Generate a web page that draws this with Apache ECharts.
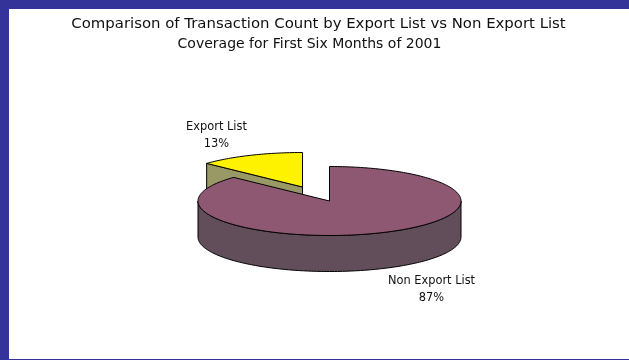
<!DOCTYPE html>
<html>
<head>
<meta charset="utf-8">
<style>html,body{margin:0;padding:0;background:#fff}#chart{width:629px;height:360px}</style>
<script src="https://cdn.jsdelivr.net/npm/echarts@6/dist/echarts.min.js"></script>
</head>
<body>
<div id="chart"></div>
<script>
// Transaction share by list coverage, January to June 2001
const categories = ['Non Export List', 'Export List'];
const shares = [87, 13];
const topColors = ['#8F5872', '#FFF200'];
const sideColors = ['#624E5A', '#999966'];
const titleLineOne = 'Comparison of Transaction Count by Export List vs Non Export List';
const titleLineTwo = 'Coverage for First Six Months of 2001';

// Tilted-pie projection
const cx = 329.5, cy = 201, rx = 131.5, ry = 34.5, depth = 36;
const explodeX = -27, explodeY = -14;
const total = shares.reduce((a, b) => a + b, 0);
const font = '"DejaVu Sans", sans-serif';

function rimPoint(t, ox, oy, drop) {
  return [cx + ox + rx * Math.sin(t), cy + oy + drop - ry * Math.cos(t)];
}

function arcPoints(from, to, ox, oy, drop) {
  const steps = Math.max(2, Math.ceil((to - from) / 0.02));
  const pts = [];
  for (let i = 0; i <= steps; i++) {
    pts.push(rimPoint(from + (to - from) * i / steps, ox, oy, drop));
  }
  return pts;
}

function renderSlice(params, api) {
  const index = api.value(0);
  const before = shares.slice(0, index).reduce((a, b) => a + b, 0);
  const start = before / total * Math.PI * 2;
  const end = (before + api.value(1)) / total * Math.PI * 2;
  const ox = index === 0 ? 0 : explodeX;
  const oy = index === 0 ? 0 : explodeY;
  const edge = { stroke: '#000000', lineWidth: 1 };
  const children = [];
  const apex = [cx + ox, cy + oy];

  // Cut face that is turned toward the viewer on the detached slice
  if (index !== 0) {
    const p = rimPoint(start, ox, oy, 0);
    children.push({
      type: 'polygon',
      shape: { points: [apex, p, [p[0], p[1] + depth], [apex[0], apex[1] + depth]] },
      style: Object.assign({ fill: sideColors[index] }, edge)
    });
  }

  // Outer wall: only the front half of the rim is visible
  const wallFrom = Math.max(start, Math.PI / 2);
  const wallTo = Math.min(end, Math.PI * 1.5);
  if (wallTo > wallFrom) {
    const upper = arcPoints(wallFrom, wallTo, ox, oy, 0);
    const lower = arcPoints(wallFrom, wallTo, ox, oy, depth).reverse();
    children.push({
      type: 'polygon',
      shape: { points: upper.concat(lower) },
      style: Object.assign({ fill: sideColors[index] }, edge)
    });
  }

  // Top surface
  children.push({
    type: 'polygon',
    shape: { points: [apex].concat(arcPoints(start, end, ox, oy, 0)) },
    style: Object.assign({ fill: topColors[index] }, edge)
  });

  return { type: 'group', children };
}

const labelAnchors = [[431.5, 289.5], [216.5, 135.5]];

const chart = echarts.init(document.getElementById('chart'), null, { renderer: 'canvas' });
chart.setOption({
  animation: false,
  backgroundColor: '#ffffff',
  graphic: [
    { type: 'rect', z: 0, shape: { x: 0, y: 0, width: 629, height: 9 }, style: { fill: '#333399' } },
    { type: 'rect', z: 0, shape: { x: 0, y: 0, width: 9, height: 360 }, style: { fill: '#333399' } },
    { type: 'rect', z: 0, shape: { x: 0, y: 359, width: 629, height: 1 }, style: { fill: '#333399' } }
  ],
  title: [{
    text: titleLineOne,
    left: 318.5,
    top: 17,
    textAlign: 'center',
    padding: 0,
    textStyle: { fontFamily: font, fontSize: 14.9, fontWeight: 'normal', color: '#111' }
  }, {
    text: titleLineTwo,
    left: 309.5,
    top: 37,
    textAlign: 'center',
    padding: 0,
    textStyle: { fontFamily: font, fontSize: 14, fontWeight: 'normal', color: '#111' }
  }],
  series: [{
    type: 'custom',
    coordinateSystem: 'none',
    renderItem: renderSlice,
    silent: true,
    // The detached slice is painted first so the large one overlaps it
    data: categories.map((c, i) => [i, shares[i]]).reverse()
  }, {
    type: 'custom',
    coordinateSystem: 'none',
    silent: true,
    renderItem(params, api) {
      const i = api.value(0);
      return {
        type: 'text',
        style: {
          x: labelAnchors[i][0],
          y: labelAnchors[i][1],
          text: categories[i] + '\n' + api.value(1) + '%',
          align: 'center',
          verticalAlign: 'middle',
          fontFamily: font,
          fontSize: 11.4,
          lineHeight: 17,
          fill: '#111'
        }
      };
    },
    data: categories.map((c, i) => [i, shares[i]])
  }]
});
</script>
</body>
</html>
